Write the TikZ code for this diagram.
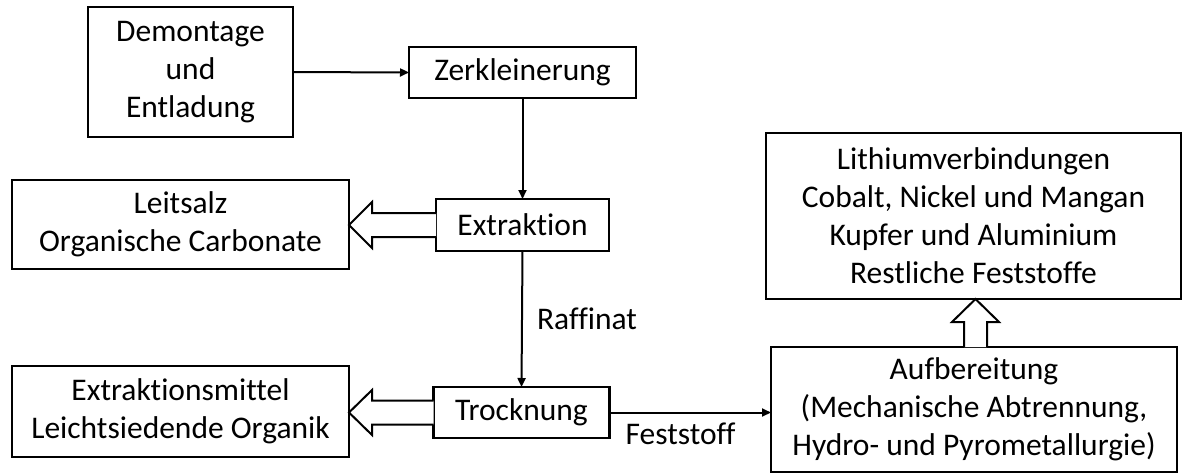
\documentclass[tikz,border=0pt]{standalone}
\usepackage{fontspec}
\setmainfont{Carlito}[Ligatures=CommonOff]
\usetikzlibrary{arrows.meta,calc}
\tikzset{
  box/.style={draw, line width=2.8pt, align=center, inner sep=0pt, outer sep=0pt,
    font=\fontsize{31.5}{38}\selectfont},
  flow/.style={line width=2pt, -{Triangle[length=9pt,width=8pt]}},
  hollow/.style={draw, line width=2pt, fill=white, line join=miter},
  lbl/.style={font=\fontsize{31.5}{38}\selectfont, inner sep=0pt}
}
\begin{document}
\begin{tikzpicture}[x=1pt,y=-1pt]
\useasboundingbox (0,0) rectangle (1183,474);
\node[box, minimum width=205pt, minimum height=130pt] (dem) at (190.5,72) {Demontage\\und\\Entladung};
\node[box, minimum width=227pt, minimum height=51pt] (zer) at (522.5,72.5) {Zerkleinerung};
\node[box, minimum width=173pt, minimum height=52pt] (ext) at (522.5,225) {Extraktion};
\node[box, minimum width=176pt, minimum height=51pt] (tro) at (521.5,412.5) {Trocknung};
\node[box, minimum width=337pt, minimum height=89pt] (lei) at (180.5,224.5) {Leitsalz\\Organische Carbonate};
\node[box, minimum width=337pt, minimum height=91pt] (exm) at (180.5,411.5) {Extraktionsmittel\\Leichtsiedende Organik};
\node[box, minimum width=415pt, minimum height=166pt] (li) at (973.5,216) {Lithiumverbindungen\\Cobalt, Nickel und Mangan\\Kupfer und Aluminium\\Restliche Feststoffe};
\node[box, minimum width=406pt, minimum height=125pt] (auf) at (974,409.5) {Aufbereitung\\ (Mechanische Abtrennung,\\Hydro- und Pyrometallurgie)};

\draw[flow] (dem.east) -- (zer.west);
\draw[flow] (zer.south) -- (ext.north);
\draw[flow] (ext.south) -- node[lbl, right=14pt] (raf) {Raffinat} (tro.north);
\draw[flow] (tro.east) -- node[lbl, pos=0.44, below=9pt] (fes) {Feststoff} (auf.west |- tro.east);

% hollow arrows
\coordinate (t1) at (lei.east |- ext.west);
\draw[hollow] ($(ext.west)+(0,-12)$) -- ($(t1)+(23,-12)$) -- ($(t1)+(23,-23)$) -- (t1)
  -- ($(t1)+(23,23)$) -- ($(t1)+(23,12)$) -- ($(ext.west)+(0,12)$);
\coordinate (t2) at (exm.east |- tro.west);
\draw[hollow] ($(tro.west)+(0,-12)$) -- ($(t2)+(23,-12)$) -- ($(t2)+(23,-22.5)$) -- (t2)
  -- ($(t2)+(23,22.5)$) -- ($(t2)+(23,12)$) -- ($(tro.west)+(0,12)$);
\coordinate (a3) at ($(auf.north)+(1.5,0)$);
\coordinate (t3) at (a3 |- li.south);
\draw[hollow] ($(a3)+(-11.5,0)$) -- ($(t3)+(-11.5,23)$) -- ($(t3)+(-23.5,23)$) -- (t3)
  -- ($(t3)+(23.5,23)$) -- ($(t3)+(11.5,23)$) -- ($(a3)+(11.5,0)$);
\end{tikzpicture}
\end{document}
